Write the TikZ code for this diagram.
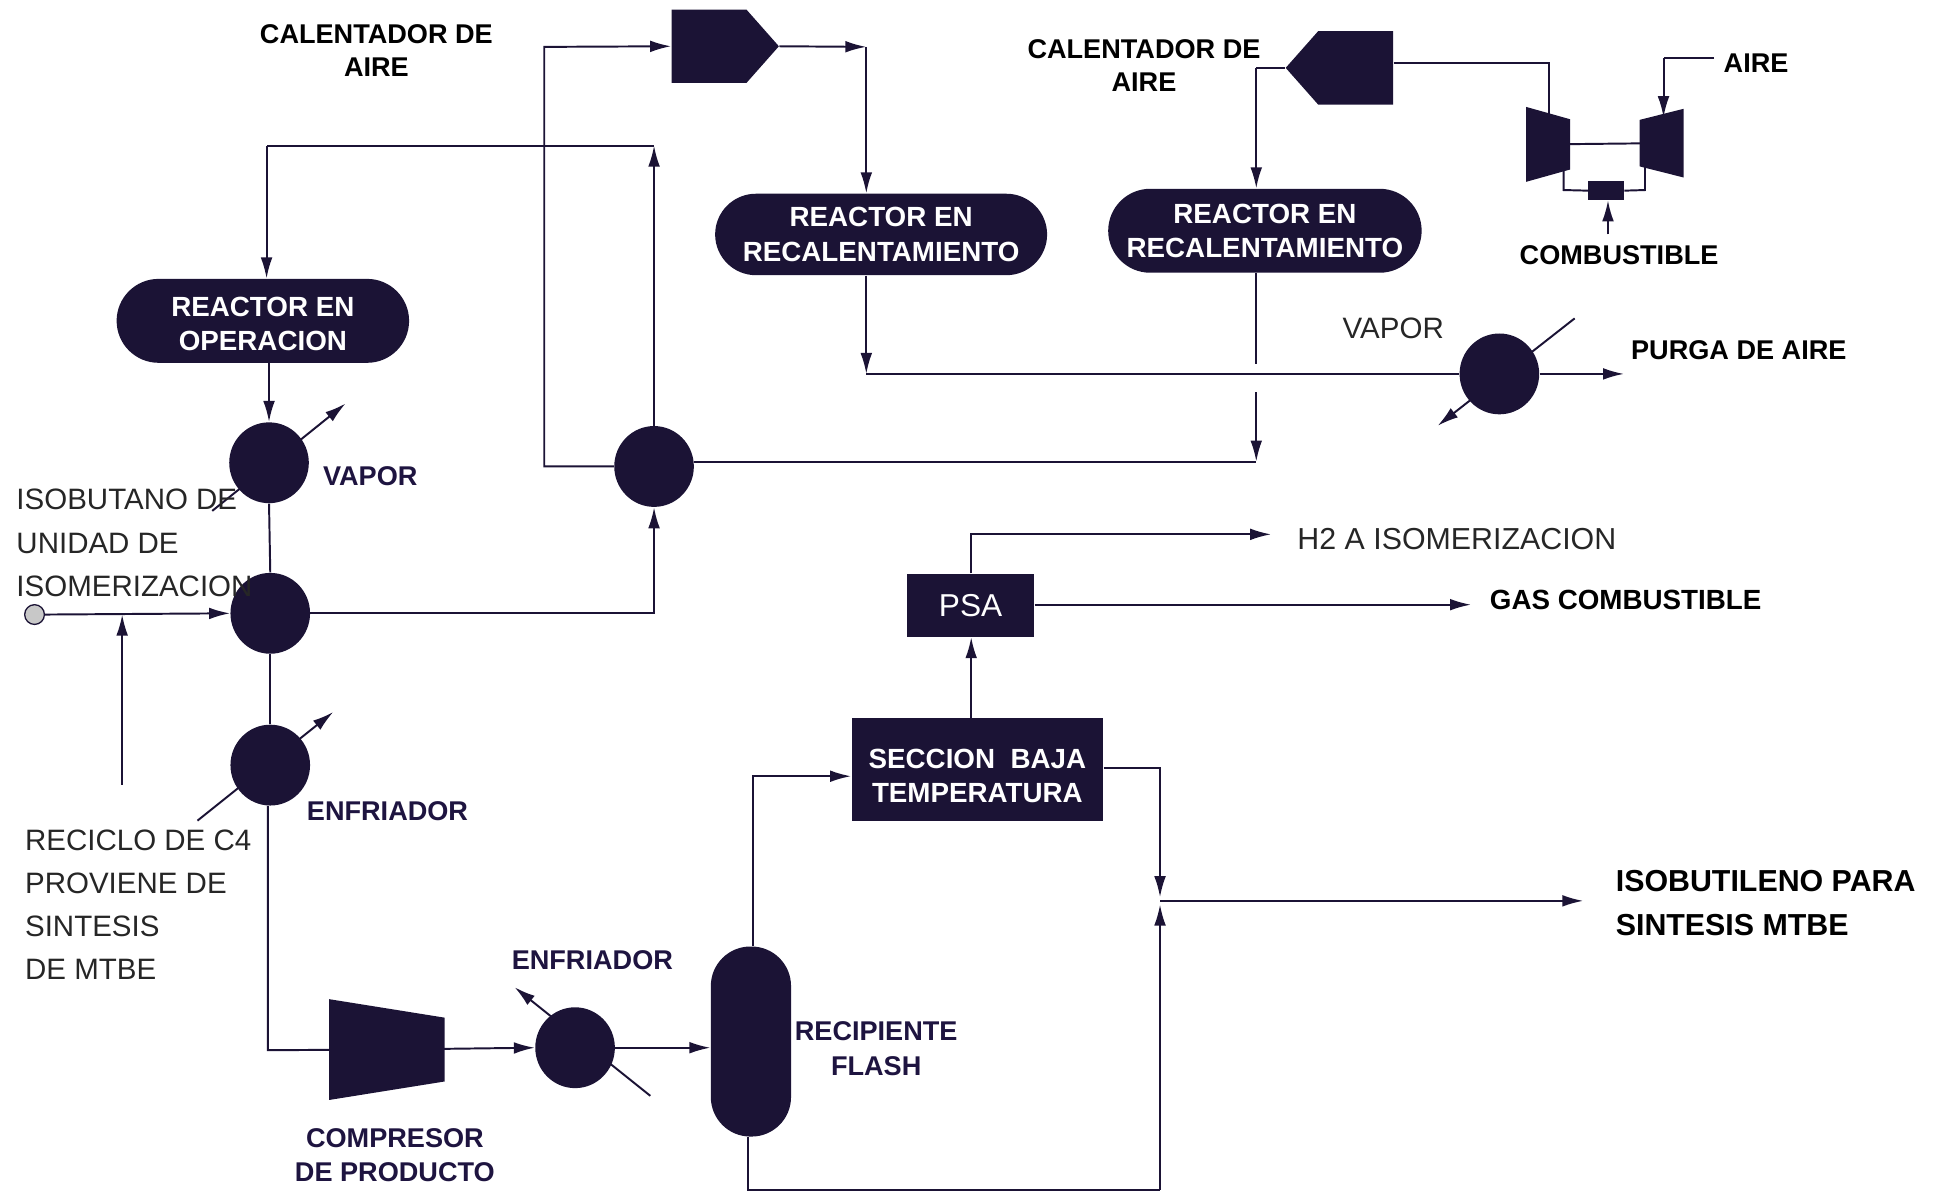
\documentclass[tikz,border=0pt]{standalone}
\usepackage{fontspec}
\setmainfont{Liberation Sans}
\usepackage{xcolor}
\definecolor{eqnavy}{HTML}{1B1335}
\definecolor{linedark}{HTML}{1B1335}
\definecolor{labelnavy}{HTML}{1E1440}
\definecolor{feedgray}{HTML}{C8C8C8}
\usetikzlibrary{shapes.geometric, shapes.misc, shapes.symbols, arrows.meta}

\tikzset{
  flowline/.style={draw=linedark, line width=0.9pt},
  flowarrow/.style={flowline, -{Latex[length=3.4mm,width=1.9mm]}},
  exchanger/.style={ellipse, fill=eqnavy, minimum width=12.9mm, minimum height=13.1mm, inner sep=0pt},
  reactorpill/.style={rounded rectangle, fill=eqnavy, text=white, inner sep=0pt, align=center,
    font=\bfseries\fontsize{12.8}{15.9}\selectfont},
  boxunit/.style={rectangle, fill=eqnavy, text=white, inner sep=0pt, align=center},
  heaterunit/.style={signal, fill=eqnavy, inner sep=0pt, minimum width=17.4mm, minimum height=11.9mm, signal pointer angle=97},
  machine/.style={rectangle, inner sep=0pt},
  boldlabel/.style={align=center, inner sep=0pt, text=black, font=\bfseries\fontsize{12.5}{15.4}\selectfont},
  thinlabel/.style={align=left, inner sep=0pt, text=black!85, font=\fontsize{13.6}{19.9}\selectfont}
}

\begin{document}
\begin{tikzpicture}[x=0.2mm, y=-0.2mm]
  \useasboundingbox (0,0) rectangle (1568,966);

  \foreach \name/\px/\py in {
    exvapor/218/375,
    exmix/219/497,
    excool/219/620,
    exfeed/530/378,
    expurge/1215/303,
    exprod/466/849}{
    \node[exchanger] (\name) at (\px,\py) {};
  }

  \node[reactorpill, minimum width=47.4mm, minimum height=13.6mm] (reacop) at (213,260) {\rule{0pt}{12pt}REACTOR EN\\OPERACION};
  \node[reactorpill, minimum width=53.8mm, minimum height=13.2mm] (reacone) at (714,190) {REACTOR EN\\RECALENTAMIENTO};
  \node[reactorpill, minimum width=50.8mm, minimum height=13.6mm] (reactwo) at (1025,187) {REACTOR EN\\RECALENTAMIENTO};

  \node[heaterunit, signal to=east] (heatone) at (574.5,37.5) {};
  \node[heaterunit, signal to=west] (heattwo) at (1098.5,55) {};

  \node[machine, minimum width=18.6mm, minimum height=16.2mm] (compr) at (313.5,850.5) {};
  \node[machine, minimum width=7mm, minimum height=12mm] (turbleft) at (1254.5,117) {};
  \node[machine, minimum width=7mm, minimum height=11mm] (turbright) at (1346.5,116) {};
  \fill[eqnavy] (compr.north west) -- ([yshift=-3mm]compr.north east) -- ([yshift=3mm]compr.south east) -- (compr.south west) -- cycle;
  \fill[eqnavy] (turbleft.north west) -- ([yshift=-2mm]turbleft.north east) -- ([yshift=2mm]turbleft.south east) -- (turbleft.south west) -- cycle;
  \fill[eqnavy] ([yshift=-1.8mm]turbright.north west) -- (turbright.north east) -- (turbright.south east) -- ([yshift=1.8mm]turbright.south west) -- cycle;
  \node[boxunit, minimum width=5.8mm, minimum height=3mm] (burner) at (1301.5,154.5) {};

  \node[rectangle, rounded corners=6.4mm, fill=eqnavy, minimum width=13mm, minimum height=30.8mm, inner sep=0pt] (flash) at (608.5,844) {};
  \node[boxunit, minimum width=20.6mm, minimum height=10.2mm, font=\fontsize{14.6}{16}\selectfont] (psa) at (786.5,490.5) {PSA};
  \node[boxunit, minimum width=40.8mm, minimum height=16.6mm, font=\bfseries\fontsize{12.8}{15.9}\selectfont] (lowtemp) at (792,623.5) {\rule{0pt}{15pt}SECCION\ \ BAJA\\TEMPERATURA};

  \node[circle, draw=linedark, fill=feedgray, minimum size=3.2mm, inner sep=0pt, line width=0.6pt] (feed) at (28,498) {};

  \coordinate (topbend) at (216,118);
  \coordinate (leftbend) at (441,38);
  \coordinate (oneright) at (702,38);
  \coordinate (purgebend) at (702,303);
  \coordinate (gaptop) at (1018,295);
  \coordinate (gapbot) at (1018,318);
  \coordinate (gapend) at (1018,374);
  \coordinate (twoleft) at (1018,55);
  \coordinate (tworight) at (1255,51);
  \coordinate (airin) at (1389,47);
  \coordinate (airbend) at (1348,47);
  \coordinate (airend) at (1348,95);
  \coordinate (fuelin) at (1303,190);
  \coordinate (leftdrop) at (1267,154);
  \coordinate (rightdrop) at (1333,154);
  \coordinate (purgeout) at (1316,303);
  \coordinate (purgehi) at (1276,258);
  \coordinate (purgelo) at (1165,345);
  \coordinate (vaporhi) at (280,327);
  \coordinate (vaporlo) at (172,414);
  \coordinate (coolhi) at (270,577);
  \coordinate (coollo) at (160,665);
  \coordinate (prodhi) at (417,800);
  \coordinate (prodlo) at (527,888);
  \coordinate (recycle) at (99,636);
  \coordinate (recyclein) at (99,498);
  \coordinate (coolbend) at (217,851);
  \coordinate (flashup) at (610,629);
  \coordinate (flashdown) at (606,964);
  \coordinate (sidebend) at (940,622);
  \coordinate (joinpt) at (940,730);
  \coordinate (joinlo) at (940,733);
  \coordinate (joinhi) at (940,727);
  \coordinate (productout) at (1283,730);
  \coordinate (hydrobend) at (787,433);
  \coordinate (hydroout) at (1030,433);
  \coordinate (gasout) at (1192,490);

  \draw[flowarrow] (exfeed.north) -- (exfeed.north |- topbend);
  \draw[flowline] (exfeed.north |- topbend) -- (topbend);
  \draw[flowarrow] (topbend) -- (topbend |- reacop.north);
  \draw[flowarrow] (exfeed.west) -| (leftbend) -- (heatone.west);
  \draw[flowarrow] (heatone.east) -- (oneright);
  \draw[flowarrow] (oneright) -- (oneright |- reacone.north);
  \draw[flowarrow] (oneright |- reacone.south) -- (purgebend);
  \draw[flowline] (purgebend) -- (expurge.west);
  \draw[flowarrow] (expurge.east) -- (purgeout);
  \draw[flowarrow] (purgehi) -- (purgelo);
  \draw[flowline] (gaptop |- reactwo.south) -- (gaptop);
  \draw[flowarrow] (gapbot) -- (gapend);
  \draw[flowline] (exfeed.east |- gapend) -- (gapend);
  \draw[flowline] (heattwo.west) -- (twoleft);
  \draw[flowarrow] (twoleft) -- (twoleft |- reactwo.north);
  \draw[flowline] (heattwo.east |- tworight) -- (tworight) -- (tworight |- turbleft.center);
  \draw[flowline] (airin) -- (airbend);
  \draw[flowarrow] (airbend) -- (airend);
  \draw[flowline] (turbleft.center) -- (turbright.center);
  \draw[flowline] (leftdrop |- turbleft.center) -- (leftdrop) -- (burner.west);
  \draw[flowline] (burner.east) -- (rightdrop) -- (rightdrop |- turbright.center);
  \draw[flowarrow] (fuelin) -- (fuelin |- burner.south);

  \draw[flowarrow] (reacop.south -| exvapor) -- (exvapor.north);
  \draw[flowarrow] (vaporlo) -- (vaporhi);
  \draw[flowline] (exvapor.south) -- (exmix.north);
  \draw[flowline] (exmix.south) -- (excool.north);
  \draw[flowarrow] (coollo) -- (coolhi);
  \draw[flowarrow] (feed.east) -- (exmix.west);
  \draw[flowarrow] (recycle) -- (recyclein);
  \draw[flowarrow] (exmix.east) -| (exfeed.south);
  \draw[flowline] (coolbend |- excool.south) -- (coolbend) -- (compr.center);
  \draw[flowarrow] (compr.center) -- (exprod.west);
  \draw[flowarrow] (prodlo) -- (prodhi);
  \draw[flowarrow] (exprod.east) -- (exprod.east -| flash.west);

  \draw[flowarrow] (flashup |- flash.north) -- (flashup) -- (flashup -| lowtemp.west);
  \draw[flowline] (flashdown |- flash.south) -- (flashdown) -- (flashdown -| joinpt);
  \draw[flowarrow] (flashdown -| joinpt) -- (joinlo);
  \draw[flowarrow] (sidebend -| lowtemp.east) -- (sidebend) -- (joinhi);
  \draw[flowarrow] (joinpt) -- (productout);
  \draw[flowarrow] (hydrobend |- lowtemp.north) -- (hydrobend |- psa.south);
  \draw[flowarrow] (hydrobend |- psa.north) -- (hydrobend) -- (hydroout);
  \draw[flowarrow] (psa.east |- gasout) -- (gasout);

  \node[boldlabel] (lblheatone) at (305,41) {CALENTADOR DE\\AIRE};
  \node[boldlabel] (lblheattwo) at (927,53) {CALENTADOR DE\\AIRE};
  \node[boldlabel] (lblair) at (1423,51) {AIRE};
  \node[boldlabel] (lblfuel) at (1312,207) {COMBUSTIBLE};
  \node[boldlabel] (lblpurge) at (1409,284) {PURGA DE AIRE};
  \node[boldlabel, text=labelnavy] (lblvapor) at (300,386) {VAPOR};
  \node[boldlabel, text=labelnavy] (lblcool) at (314,657) {ENFRIADOR};
  \node[boldlabel, text=labelnavy] (lblprodcool) at (480,778) {ENFRIADOR};
  \node[boldlabel, text=labelnavy, font=\bfseries\fontsize{12.5}{16}\selectfont] (lblflash) at (710,850) {RECIPIENTE\\FLASH};
  \node[boldlabel, text=labelnavy, font=\bfseries\fontsize{12.5}{16}\selectfont] (lblcompr) at (320,936) {COMPRESOR\\DE PRODUCTO};
  \node[boldlabel, anchor=west, font=\bfseries\fontsize{12.8}{15.4}\selectfont] (lblgas) at (1207,486) {GAS COMBUSTIBLE};
  \node[boldlabel, anchor=west, align=left, font=\bfseries\fontsize{14}{20.4}\selectfont] (lblproduct) at (1309,732) {ISOBUTILENO PARA\\SINTESIS MTBE};

  \node[thinlabel, anchor=center] (lblsteam) at (1129,266) {VAPOR};
  \node[thinlabel, anchor=west, font=\fontsize{14}{19.9}\selectfont] (lblhydro) at (1051,437) {H2 A ISOMERIZACION};
  \node[thinlabel, anchor=west] (lblfeed) at (13,440) {ISOBUTANO DE\\UNIDAD DE\\ISOMERIZACION};
  \node[thinlabel, anchor=west] (lblrecycle) at (20,733) {RECICLO DE C4\\PROVIENE DE\\SINTESIS\\DE MTBE};
\end{tikzpicture}
\end{document}
